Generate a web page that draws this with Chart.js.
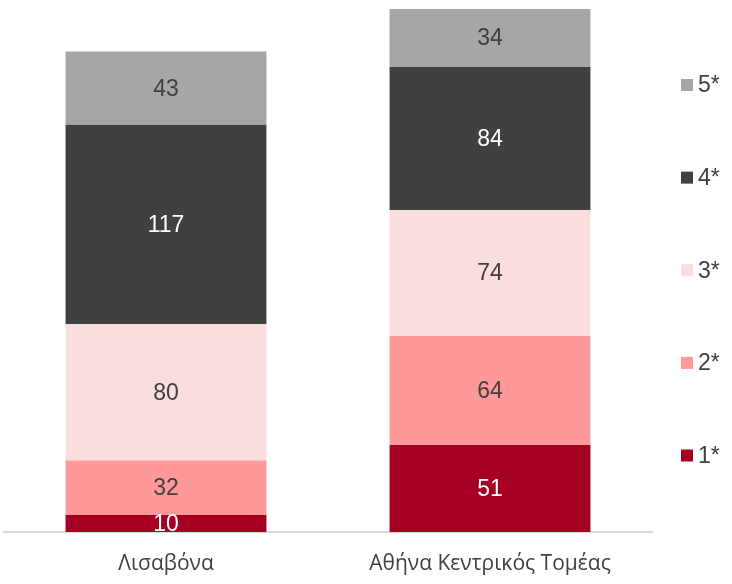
<!DOCTYPE html>
<html>
<head>
<meta charset="utf-8">
<script src="https://cdn.jsdelivr.net/npm/chart.js@4/dist/chart.umd.min.js"></script>
<style>
html,body{margin:0;padding:0;background:#fff;}
#wrap{width:732px;height:584px;}
</style>
</head>
<body>
<div id="wrap"><canvas id="c"></canvas></div>
<script>
const categories = ['Λισαβόνα','Αθήνα Κεντρικός Τομέας'];
const seriesNames = ['1*','2*','3*','4*','5*'];
const star1 = [10,51];
const star2 = [32,64];
const star3 = [80,74];
const star4 = [117,84];
const star5 = [43,34];

const colors = ['#A50021','#FF9999','#FADEDE','#404040','#A6A6A6'];
const labelColors = ['#ffffff','#404040','#404040','#ffffff','#404040'];

const allSeries = [star1,star2,star3,star4,star5];
let yMax = 0;
categories.forEach(function(c,i){
let s = 0;
allSeries.forEach(function(arr){ s += arr[i]; });
if(s > yMax) yMax = s;
});

/* value labels + legend drawn by hand */
const drawExtras = {
id:'drawExtras',
afterDatasetsDraw(chart){
const ctx = chart.ctx;
ctx.save();
ctx.font = '23px "Liberation Sans", Arial, sans-serif';
ctx.textAlign = 'center';
ctx.textBaseline = 'middle';
chart.data.datasets.forEach(function(ds,di){
const meta = chart.getDatasetMeta(di);
meta.data.forEach(function(bar,i){
const mid = (bar.y + bar.base)/2;
ctx.fillStyle = labelColors[di];
ctx.fillText(String(ds.data[i]), bar.x, mid + 1);
});
});

/* legend, 5* on top */
const area = chart.chartArea;
const n = chart.data.datasets.length;
const top = 85, bottom = 455.5;
const step = (bottom - top)/(n-1);
ctx.textAlign = 'left';
ctx.font = '23px "Liberation Sans", Arial, sans-serif';
for(let k=0;k<n;k++){
const di = n-1-k;
const y = top + k*step;
ctx.fillStyle = colors[di];
ctx.fillRect(area.right + 29, y - 6, 12, 12);
ctx.fillStyle = '#404040';
ctx.fillText(chart.data.datasets[di].label, area.right + 46, y + 1);
}
ctx.restore();
}
};

new Chart(document.getElementById('c'),{
type:'bar',
data:{
labels:categories,
datasets:seriesNames.map(function(name,i){
return {
label:name,
data:allSeries[i],
backgroundColor:colors[i],
borderWidth:0,
barPercentage:0.62,
categoryPercentage:1
};
})
},
options:{
responsive:true,
maintainAspectRatio:false,
animation:false,
layout:{padding:{top:9,left:4,right:80,bottom:0}},
plugins:{legend:{display:false},tooltip:{enabled:false}},
scales:{
x:{
stacked:true,
grid:{display:false,drawTicks:false},
border:{display:true,color:'#D9D9D9',width:2},
ticks:{color:'#404040',padding:19,font:{family:'"Open Sans", sans-serif',size:21}},
afterFit:function(scale){ scale.height = 52; }
},
y:{
stacked:true,
display:false,
min:0,
max:yMax
}
}
},
plugins:[drawExtras]
});
</script>
</body>
</html>
